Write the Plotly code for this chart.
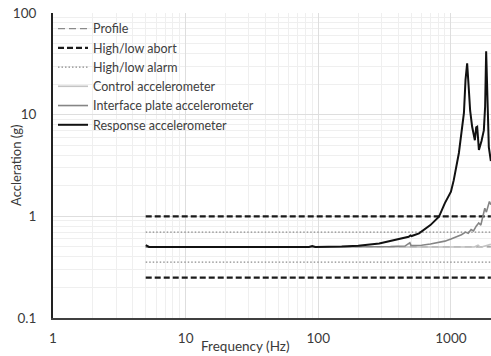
import plotly.graph_objects as go

# ---- data ----
band_f = [5, 2000]
profile_v = [0.5, 0.5]
abort_hi = [1.0, 1.0]
abort_lo = [0.25, 0.25]
alarm_hi = [0.7, 0.7]
alarm_lo = [0.354, 0.354]

control_f = [5, 50, 200, 500, 505, 510, 1000, 1500, 1600, 1650, 1700, 1900, 2000]
control_v = [0.5, 0.5, 0.5, 0.5, 0.51, 0.5, 0.5, 0.5, 0.52, 0.5, 0.5, 0.52, 0.53]

iface_f = [5, 50, 150, 250, 350, 450, 490, 500, 520, 600, 700, 800, 900, 1000, 1100, 1200,
           1290, 1350, 1420, 1480, 1550, 1620, 1680, 1740, 1800, 1850, 1900, 1950, 2000]
iface_v = [0.5, 0.5, 0.5, 0.5, 0.505, 0.51, 0.55, 0.515, 0.515, 0.52, 0.535, 0.55, 0.57, 0.6,
           0.63, 0.66, 0.70, 0.68, 0.74, 0.72, 0.8, 0.86, 0.82, 1.0, 1.2, 1.1, 1.24, 1.4, 1.3]

resp_f = [5, 5.3, 7, 20, 50, 85, 90, 95, 150, 200, 288, 400, 480, 495, 505, 575, 700, 812,
          900, 1000, 1050, 1148, 1253, 1288, 1325, 1365, 1395, 1445, 1515, 1550, 1577, 1625,
          1700, 1770, 1810, 1843, 1880, 1930, 2000]
resp_v = [0.52, 0.5, 0.5, 0.5, 0.5, 0.5, 0.51, 0.5, 0.505, 0.515, 0.54, 0.59, 0.63, 0.65,
          0.64, 0.68, 0.82, 0.99, 1.35, 1.75, 2.27, 4.2, 10.4, 22, 32, 17.5, 11, 7.6, 5.6,
          7.5, 7.6, 4.5, 5.5, 7.0, 12, 42, 15, 4.8, 3.5]

x_ticks = [1, 10, 100, 1000]
y_ticks = [0.1, 1, 10, 100]

fig = go.Figure()
fig.add_trace(go.Scatter(x=band_f, y=profile_v, mode="lines", name="Profile",
                         line=dict(color="#8a8a8a", width=1.2, dash="7px,4px")))
fig.add_trace(go.Scatter(x=band_f + [None] + band_f, y=abort_hi + [None] + abort_lo,
                         mode="lines", name="High/low abort",
                         line=dict(color="#1a1a1a", width=2.2, dash="6px,3px")))
fig.add_trace(go.Scatter(x=band_f + [None] + band_f, y=alarm_hi + [None] + alarm_lo,
                         mode="lines", name="High/low alarm",
                         line=dict(color="#8a8a8a", width=1.2, dash="1.5px,2px")))
fig.add_trace(go.Scatter(x=control_f, y=control_v, mode="lines", name="Control accelerometer",
                         line=dict(color="#c4c4c4", width=1.6)))
fig.add_trace(go.Scatter(x=iface_f, y=iface_v, mode="lines", name="Interface plate accelerometer",
                         line=dict(color="#858585", width=1.6)))
fig.add_trace(go.Scatter(x=resp_f, y=resp_v, mode="lines", name="Response accelerometer",
                         line=dict(color="#111111", width=2)))

font = "Lato, 'Liberation Sans', sans-serif"
plot_w = 491 - 53
plot_h = 356 - 13 - 38
fig.update_layout(
    width=491, height=356,
    margin=dict(l=53, r=0, t=13, b=38),
    paper_bgcolor="white", plot_bgcolor="white",
    font=dict(family=font, size=13.5, color="#3a3a3a"),
    showlegend=True,
    legend=dict(x=0.0, y=0.997, xanchor="left", yanchor="top", bgcolor="rgba(255,255,255,0)",
                font=dict(size=12.5, color="#404040"), traceorder="normal"),
    annotations=[
        dict(text="Accleration (g)", xref="paper", yref="paper",
             x=-(53 - 16) / plot_w, y=(318 - 165) / plot_h, textangle=-90,
             showarrow=False, xanchor="center", yanchor="middle",
             font=dict(size=13, color="#3a3a3a")),
        dict(text="Frequency (Hz)", xref="paper", yref="paper",
             x=(245 - 53) / plot_w, y=-(346 - 318) / plot_h,
             showarrow=False, xanchor="center", yanchor="middle",
             font=dict(size=13.5, color="#3a3a3a")),
    ],
)
fig.update_xaxes(
    type="log", range=[0, 3.302],
    tickvals=x_ticks, ticktext=[str(v) for v in x_ticks],
    showgrid=True, gridcolor="#dedede", gridwidth=1,
    minor=dict(dtick="D1", showgrid=True, gridcolor="#efefef", ticks=""),
    showline=True, linecolor="#404040", linewidth=1.5,
    ticks="outside", ticklen=7, tickcolor="rgba(0,0,0,0)", zeroline=False,
)
fig.update_yaxes(
    type="log", range=[-1, 2],
    tickvals=y_ticks, ticktext=["0.1", "1", "10", "100"],
    showgrid=True, gridcolor="#dedede", gridwidth=1,
    minor=dict(dtick="D1", showgrid=True, gridcolor="#efefef", ticks=""),
    showline=True, linecolor="#222222", linewidth=2,
    ticks="outside", ticklen=12, tickcolor="rgba(0,0,0,0)", zeroline=False,
)

fig.write_html("out.html")
